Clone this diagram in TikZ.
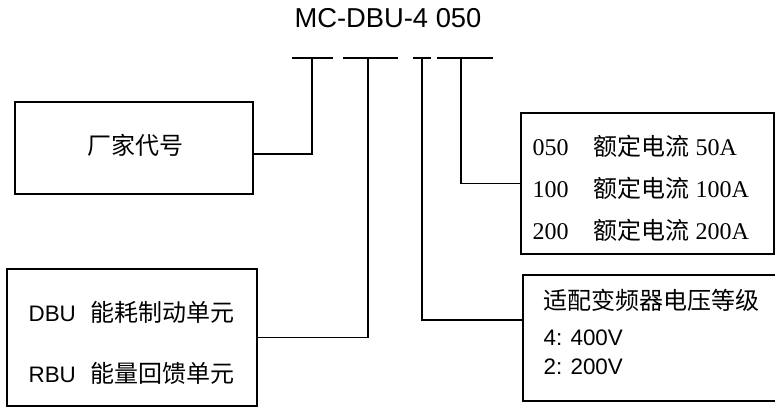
\documentclass[tikz,border=0pt]{standalone}
\usepackage{fontspec}
\setmainfont{Liberation Sans}
\newfontfamily\timesfont{Liberation Serif}
\newfontfamily\cjk{Noto Sans CJK SC}
\begin{document}
\begin{tikzpicture}[x=0.75pt,y=-0.75pt,line width=0.9pt,
  unitbox/.style={draw,inner sep=0pt},
  txt/.style={anchor=base west,inner sep=0pt,font=\fontsize{16.8}{20}\selectfont}]
\useasboundingbox (0,0) rectangle (775,408);
\node[anchor=base,inner sep=0pt,font=\fontsize{20.5}{24}\selectfont] (code) at (388,27) {MC-DBU-4 050};
% bars under the code
\draw (292,58) -- (333,58);
\draw (343,58) -- (398,58);
\draw (413,58) -- (431,58);
\draw (437,58) -- (493,58);
\coordinate (t1) at (312,58);
\coordinate (t2) at (368,58);
\coordinate (t3) at (422,58);
\coordinate (t4) at (461,58);
% boxes
\node[unitbox,minimum width=178.5pt,minimum height=69pt] (maker) at (134,148) {};
\node[unitbox,minimum width=187.5pt,minimum height=102.75pt] (kind) at (132,337.5) {};
\node[unitbox,minimum width=189.75pt,minimum height=105.75pt] (amps) at (647.5,183.5) {};
\node[unitbox,minimum width=190.5pt,minimum height=94.5pt] (volts) at (650,338) {};
% texts
\node[anchor=base,inner sep=0pt,font=\fontsize{18}{22}\cjk] (makertxt) at (135,154) {厂家代号};
\node[txt] (dbu) at (28,321) {DBU\hspace{11pt}{\fontsize{18}{22}\cjk 能耗制动单元}};
\node[txt] (rbu) at (28,382) {RBU\hspace{11pt}{\fontsize{18}{22}\cjk 能量回馈单元}};
\node[txt,font=\fontsize{18}{22}\timesfont] (a050) at (532,155) {\makebox[45.75pt][l]{050}{\cjk 额定电流} 50A};
\node[txt,font=\fontsize{18}{22}\timesfont] (a100) at (532,197) {\makebox[45.75pt][l]{100}{\cjk 额定电流} 100A};
\node[txt,font=\fontsize{18}{22}\timesfont] (a200) at (532,239) {\makebox[45.75pt][l]{200}{\cjk 额定电流} 200A};
\node[txt,font=\fontsize{18}{22}\cjk] (vhead) at (543,309) {适配变频器电压等级};
\node[txt] (v4) at (543,345) {4: 400V};
\node[txt] (v2) at (543,374) {2: 200V};
% connectors
\draw ([yshift=-4.5pt]maker.east) -| (t1);
\draw (kind.east) -| (t2);
\draw (amps.west) -| (t4);
\draw ([yshift=13.5pt]volts.west) -| (t3);
\end{tikzpicture}
\end{document}
